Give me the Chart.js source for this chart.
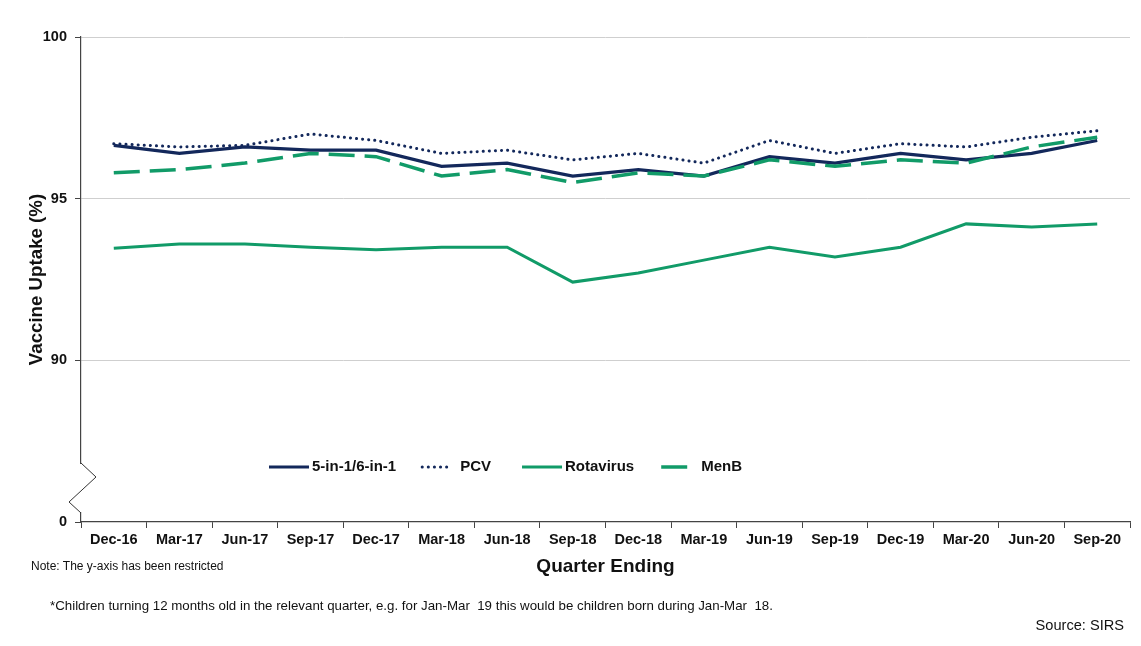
<!DOCTYPE html>
<html>
<head>
<meta charset="utf-8">
<script src="https://cdn.jsdelivr.net/npm/chart.js@4.4.1/dist/chart.umd.min.js"></script>
<style>
  html, body { margin: 0; padding: 0; background: #fff; }
  #wrap { position: relative; width: 1141px; height: 646px; font-family: "Liberation Sans", Arial, sans-serif; color: #111; }
  #uptakeChart { position: absolute; left: 0; top: 0; }
  .note { position: absolute; white-space: nowrap; line-height: 1; }
</style>
</head>
<body>
<div id="wrap">
  <canvas id="uptakeChart" width="1141" height="646"></canvas>
  <div class="note" style="left:31px; top:560px; font-size:12px;">Note: The y-axis has been restricted</div>
  <div class="note" style="left:50px; top:599px; font-size:13.3px;">*Children turning 12 months old in the relevant quarter, e.g. for Jan-Mar&nbsp; 19 this would be children born during Jan-Mar&nbsp; 18.</div>
  <div class="note" style="right:17px; top:618px; font-size:14.6px;">Source: SIRS</div>
</div>
<script>
// Quarter ending labels
const quarters = ['Dec-16', 'Mar-17', 'Jun-17', 'Sep-17', 'Dec-17', 'Mar-18', 'Jun-18', 'Sep-18',
                  'Dec-18', 'Mar-19', 'Jun-19', 'Sep-19', 'Dec-19', 'Mar-20', 'Jun-20', 'Sep-20'];

// Uptake (%)
const fiveInOne = [96.65, 96.4, 96.6, 96.5, 96.5, 96.0, 96.1, 95.7, 95.9, 95.7, 96.3, 96.1, 96.4, 96.2, 96.4, 96.8];
const pcv       = [96.7, 96.6, 96.65, 97.0, 96.8, 96.4, 96.5, 96.2, 96.4, 96.1, 96.8, 96.4, 96.7, 96.6, 96.9, 97.1];
const rotavirus = [93.47, 93.6, 93.6, 93.5, 93.42, 93.5, 93.5, 92.42, 92.7, 93.1, 93.5, 93.2, 93.5, 94.22, 94.12, 94.22];
const menB      = [95.8, 95.9, 96.1, 96.4, 96.3, 95.7, 95.9, 95.5, 95.8, 95.7, 96.2, 96.0, 96.2, 96.1, 96.6, 96.9];

// y axis is restricted: the bottom tick stands for 0
const yTicks = [85, 90, 95, 100];
const yTickLabels = ['0', '90', '95', '100'];

const NAVY = '#13285b';
const GREEN = '#119b68';
const FONT = '"Liberation Sans", Arial, sans-serif';

/**
 * Legend drawn inside the plot area
 */
const innerLegend = {
    id: 'innerLegend',
    afterDatasetsDraw(chart) {
        const ctx = chart.ctx;
        const area = chart.chartArea;
        const y = area.top + 430;
        let x = area.left + 188;
        ctx.save();
        ctx.font = 'bold 15px ' + FONT;
        ctx.textBaseline = 'middle';
        chart.data.datasets.slice().sort((a, b) => a.legendIndex - b.legendIndex).forEach(ds => {
            const sample = ds.legendSample;
            ctx.beginPath();
            ctx.strokeStyle = ds.borderColor;
            ctx.lineWidth = ds.borderWidth;
            ctx.lineCap = ds.borderCapStyle || 'butt';
            ctx.setLineDash(ds.borderDash || []);
            ctx.moveTo(x, y);
            ctx.lineTo(x + sample[0], y);
            ctx.stroke();
            ctx.setLineDash([]);
            ctx.fillStyle = '#111';
            const tx = x + sample[1];
            ctx.fillText(ds.label, tx, y);
            x = tx + ctx.measureText(ds.label).width + sample[2];
        });
        ctx.restore();
    }
};

/**
 * Break mark on the y axis
 */
const axisBreak = {
    id: 'axisBreak',
    afterDraw(chart) {
        const ctx = chart.ctx;
        const x = chart.chartArea.left;
        const b = chart.chartArea.bottom;
        ctx.save();
        ctx.fillStyle = '#fff';
        ctx.fillRect(x - 2, b - 58, 4, 48);
        ctx.beginPath();
        ctx.strokeStyle = '#333';
        ctx.lineWidth = 1;
        ctx.moveTo(x, b - 59);
        ctx.lineTo(x + 15, b - 45);
        ctx.lineTo(x - 12, b - 20);
        ctx.lineTo(x, b - 9);
        ctx.stroke();
        ctx.restore();
    }
};

function initUptakeChart() {
    const canvas = document.getElementById('uptakeChart');
    if (!canvas) return;
    const ctx = canvas.getContext('2d');

    new Chart(ctx, {
        type: 'line',
        data: {
            labels: quarters,
            datasets: [
                {
                    label: 'MenB',
                    legendIndex: 3,
                    legendSample: [26, 40, 0],
                    data: menB,
                    borderColor: GREEN,
                    borderWidth: 3.5,
                    borderDash: [26, 10],
                    order: 0
                },
                {
                    label: '5-in-1/6-in-1',
                    legendIndex: 0,
                    legendSample: [40, 43, 26],
                    data: fiveInOne,
                    borderColor: NAVY,
                    borderWidth: 3.2,
                    order: 1
                },
                {
                    label: 'PCV',
                    legendIndex: 1,
                    legendSample: [30, 38, 31],
                    data: pcv,
                    borderColor: NAVY,
                    borderWidth: 3,
                    borderDash: [0.1, 6],
                    borderCapStyle: 'round',
                    order: 2
                },
                {
                    label: 'Rotavirus',
                    legendIndex: 2,
                    legendSample: [40, 43, 27],
                    data: rotavirus,
                    borderColor: GREEN,
                    borderWidth: 3,
                    order: 3
                }
            ]
        },
        options: {
            responsive: false,
            animation: false,
            devicePixelRatio: 1,
            elements: {
                point: { radius: 0 },
                line: { tension: 0, fill: false }
            },
            layout: {
                padding: { left: 22, top: 37, right: 11, bottom: 64 }
            },
            plugins: {
                legend: { display: false },
                tooltip: { enabled: false }
            },
            scales: {
                x: {
                    offset: true,
                    afterFit: scale => { scale.height = 60; },
                    grid: {
                        offset: true,
                        drawOnChartArea: false,
                        tickLength: 6,
                        color: '#444'
                    },
                    border: { color: '#444', width: 1.2 },
                    ticks: {
                        color: '#111',
                        padding: 3,
                        maxRotation: 0,
                        autoSkip: false,
                        font: { family: FONT, size: 14.5, weight: 'bold' }
                    },
                    title: {
                        display: true,
                        text: 'Quarter Ending',
                        color: '#111',
                        padding: { top: 4, bottom: 4 },
                        font: { family: FONT, size: 19, weight: 'bold' }
                    }
                },
                y: {
                    min: 85,
                    max: 100,
                    afterFit: scale => { scale.width = 59; },
                    afterBuildTicks: scale => {
                        scale.ticks = yTicks.map(v => ({ value: v }));
                    },
                    grid: {
                        color: ctx => (ctx.tick && ctx.tick.value === 85 ? 'rgba(0,0,0,0)' : '#cfcfcf'),
                        tickColor: '#444',
                        tickLength: 6
                    },
                    border: { color: '#444', width: 1.2 },
                    ticks: {
                        color: '#111',
                        padding: 8,
                        font: { family: FONT, size: 14.5, weight: 'bold' },
                        callback: value => yTickLabels[yTicks.indexOf(value)]
                    },
                    title: {
                        display: true,
                        text: 'Vaccine Uptake (%)',
                        color: '#111',
                        padding: { top: 4, bottom: 4 },
                        font: { family: FONT, size: 18.7, weight: 'bold' }
                    }
                }
            }
        },
        plugins: [innerLegend, axisBreak]
    });
}

document.addEventListener('DOMContentLoaded', initUptakeChart);
</script>
</body>
</html>
